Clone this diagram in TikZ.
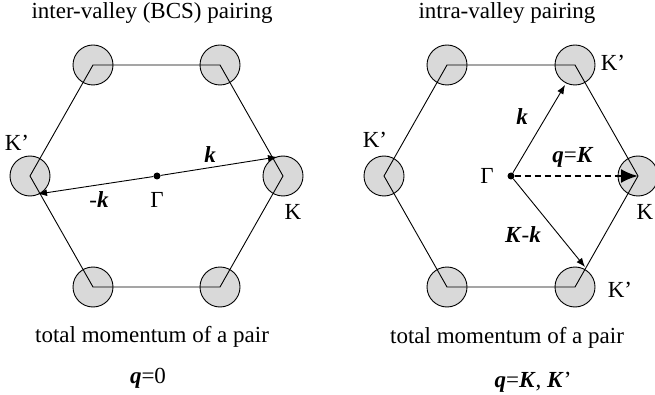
\documentclass[tikz,border=0pt]{standalone}
\usepackage{fontspec}
\setmainfont{Liberation Serif}
\usetikzlibrary{arrows.meta,positioning,calc}

\newcommand{\bvec}[1]{\textbf{\textit{#1}}}

\begin{document}
\begin{tikzpicture}[
        x=1pt, y=-1pt,
        valley/.style={circle, draw, fill=gray!30, minimum size=40pt, inner sep=0pt, line width=0.9pt},
        edge/.style={line width=0.9pt},
        vec/.style={-{Latex[length=9pt,width=7pt]}, line width=0.9pt},
        qvec/.style={-{Latex[length=17pt,width=14pt]}, line width=2.4pt, dash pattern=on 6pt off 4pt},
        dot/.style={circle, fill, inner sep=0pt, minimum size=7pt},
        lbl/.style={font=\fontsize{23}{26}\selectfont, inner sep=0pt}
    ]
    \useasboundingbox (0,0) rectangle (655,395);

    % inter-valley (left)
    \node[valley] (la) at (93,65) {};
    \node[valley] (lb) at (220,65) {};
    \node[valley] (lc) at (283,176) {};
    \node[valley] (ld) at (220,287) {};
    \node[valley] (le) at (93,287) {};
    \node[valley] (lf) at (30,176) {};
    \draw[edge] (la.center) -- (lb.center) -- (lc.center) -- (ld.center) -- (le.center) -- (lf.center) -- cycle;

    \node[dot] (lgamma) at (157,176) {};
    \coordinate (lkend) at (277,157);
    \coordinate (lmkend) at (38,194);
    \draw[vec] (lgamma) -- (lkend);
    \draw[vec] (lgamma) -- (lmkend);

    \node[lbl] (ltitle) at (152,13) {inter-valley (BCS) pairing};
    \node[lbl] at (17,143) {K’};
    \node[lbl] at (210,155) {\bvec{k}};
    \node[lbl] at (99,200) {-\bvec{k}};
    \node[lbl] at (157,200) {Γ};
    \node[lbl] at (293,212) {K};
    \node[lbl] (ltotal) at (152,337) {total momentum of a pair};
    \node[lbl] at (148,378) {\bvec{q}=0};

    % intra-valley (right)
    \node[valley] (ra) at (447,65) {};
    \node[valley] (rb) at (575,65) {};
    \node[valley] (rc) at (638,176) {};
    \node[valley] (rd) at (575,287) {};
    \node[valley] (re) at (447,287) {};
    \node[valley] (rf) at (384,176) {};
    \draw[edge] (ra.center) -- (rb.center) -- (rc.center) -- (rd.center) -- (re.center) -- (rf.center) -- cycle;

    \node[dot] (rgamma) at (511,176) {};
    \coordinate (rkend) at (565,85);
    \coordinate (rkkend) at (585,267);
    \draw[vec] (rgamma) -- (rkend);
    \draw[vec] (rgamma) -- (rkkend);
    \draw[qvec] (rgamma) -- (rc.center);

    \node[lbl] (rtitle) at (507,13) {intra-valley pairing};
    \node[lbl] at (613,63) {K’};
    \node[lbl] at (375,140) {K’};
    \node[lbl] at (522,117) {\bvec{k}};
    \node[lbl] at (573,157) {\bvec{q}=\bvec{K}};
    \node[lbl] at (487,176) {Γ};
    \node[lbl] at (645,212) {K};
    \node[lbl] at (523,235) {\bvec{K}-\bvec{k}};
    \node[lbl] at (620,290) {K’};
    \node[lbl] (rtotal) at (507,338) {total momentum of a pair};
    \node[lbl] at (533,382) {\bvec{q}=\bvec{K}, \bvec{K}’};
\end{tikzpicture}
\end{document}
